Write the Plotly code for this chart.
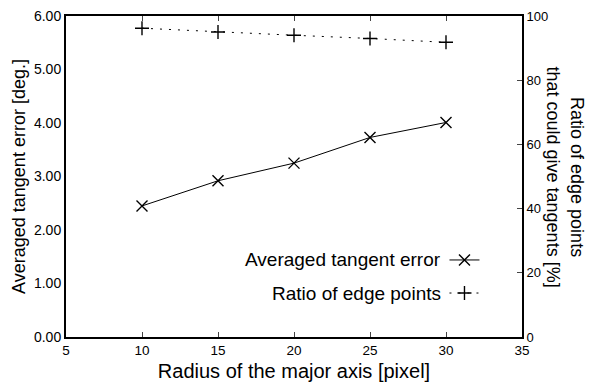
import plotly.graph_objects as go

radius = [10, 15, 20, 25, 30]
tangent_error = [2.45, 2.92, 3.25, 3.73, 4.01]
ratio_edge = [96.2, 95.0, 94.0, 93.0, 91.8]

left_ticks = [0, 1, 2, 3, 4, 5, 6]
left_ticktext = ["0.00", "1.00", "2.00", "3.00", "4.00", "5.00", "6.00"]
right_ticks = [0, 20, 40, 60, 80, 100]
x_ticks = [5, 10, 15, 20, 25, 30, 35]

FONT = "Liberation Sans, Arial, sans-serif"

fig = go.Figure()
fig.add_trace(go.Scatter(
    x=radius, y=tangent_error, mode="lines+markers", name=" ",
    line=dict(color="black", width=1),
    marker=dict(symbol="x-thin", size=11, line=dict(color="black", width=1.4)),
    legend="legend", yaxis="y"))
fig.add_trace(go.Scatter(
    x=radius, y=ratio_edge, mode="lines+markers", name=" ",
    line=dict(color="black", width=1, dash="2px,7px"),
    marker=dict(symbol="cross-thin", size=10, line=dict(color="black", width=1.4)),
    legend="legend2", yaxis="y2"))

fig.update_layout(
    width=589, height=382,
    margin=dict(l=66, r=67, t=16, b=45, autoexpand=False),
    paper_bgcolor="white", plot_bgcolor="white",
    font=dict(family=FONT, color="black", size=12),
    showlegend=True,
    xaxis=dict(range=[5, 35], tickvals=x_ticks, ticks="inside", ticklen=5,
               tickwidth=1, showline=True, linecolor="black", linewidth=2,
               mirror="ticks", showgrid=False, zeroline=False,
               automargin=False, tickfont=dict(size=13.5),
               title=dict(text="Radius of the major axis [pixel]",
                          font=dict(size=20), standoff=10)),
    yaxis=dict(range=[0, 6], tickvals=left_ticks, ticktext=left_ticktext,
               ticks="", showline=True, linecolor="black", linewidth=2,
               showgrid=False, zeroline=False, automargin=False,
               tickfont=dict(size=14),
               title=dict(text="Averaged tangent error [deg.]",
                          font=dict(size=18), standoff=4)),
    yaxis2=dict(range=[0, 100], tickvals=right_ticks, overlaying="y",
                side="right", ticks="inside", ticklen=5, showline=True,
                linecolor="black", linewidth=2, showgrid=False,
                zeroline=False, automargin=False, tickfont=dict(size=13)),
    legend=dict(x=0.83, y=0.24, xanchor="left", yanchor="middle",
                bgcolor="rgba(0,0,0,0)", font=dict(size=10),
                itemwidth=30, tracegroupgap=0),
    legend2=dict(x=0.83, y=0.137, xanchor="left", yanchor="middle",
                 bgcolor="rgba(0,0,0,0)", font=dict(size=10),
                 itemwidth=30, tracegroupgap=0),
    annotations=[
        dict(text="Averaged tangent error", xref="paper", yref="paper",
             x=(443 - 66) / 456, y=0.24, xanchor="right", yanchor="middle",
             showarrow=False, font=dict(size=19)),
        dict(text="Ratio of edge points", xref="paper", yref="paper",
             x=(443 - 66) / 456, y=0.137, xanchor="right", yanchor="middle",
             showarrow=False, font=dict(size=19)),
        dict(text="Ratio of edge points<br>that could give tangents [%]",
             xref="paper", yref="paper", x=(565 - 66) / 456, y=0.5,
             xanchor="center", yanchor="middle", textangle=90,
             showarrow=False, font=dict(size=18)),
    ],
)

fig.write_html("out.html")
